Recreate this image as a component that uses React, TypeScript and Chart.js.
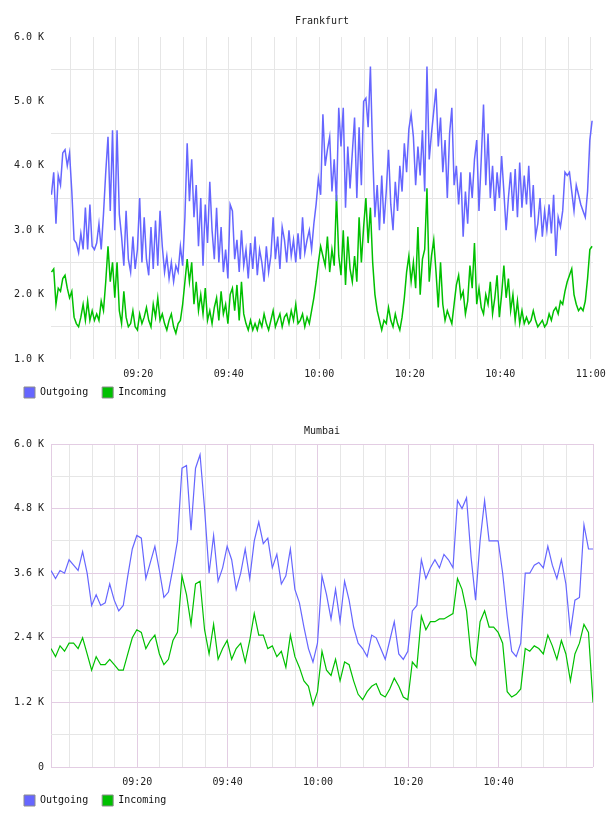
import React, { useEffect, useRef } from 'react';
import { Chart, registerables } from 'chart.js';

Chart.register(...registerables);

const FONT = '"DejaVu Sans Mono", monospace';
const OUT_COLOR = '#6666ff';
const IN_COLOR = '#00c000';
const GRID_GREY = '#e6e6e6';
const GRID_PINK = '#e3cde3';

const seriesNames = ['Outgoing', 'Incoming'];

// Minutes after 09:00 that get a labelled tick
const timeLabelMinutes = [20, 40, 60, 80, 100, 120];

// Frankfurt traffic in K, one sample every 30 s from 09:00:48
const frankfurtStart = 0.8;
const frankfurtStep = 0.5;
const frankfurtOutgoing = [
  3.55, 3.9, 3.1, 3.85, 3.7, 4.2, 4.25, 4.0, 4.2, 3.6,
  2.85, 2.8, 2.65, 2.95, 2.7, 3.35, 2.7, 3.4, 2.75, 2.7,
  2.8, 3.1, 2.7, 3.25, 3.9, 4.45, 3.3, 4.55, 3.0, 4.55,
  3.25, 2.9, 2.45, 3.3, 2.55, 2.35, 2.9, 2.4, 2.7, 3.5,
  2.5, 3.2, 2.55, 2.3, 3.05, 2.4, 3.15, 2.45, 3.3, 2.75,
  2.35, 2.6, 2.25, 2.5, 2.2, 2.45, 2.35, 2.75, 2.45, 3.2,
  4.35, 3.45, 4.1, 3.2, 3.7, 2.75, 3.5, 2.45, 3.4, 2.8,
  3.75, 3.0, 2.55, 3.35, 2.5, 3.05, 2.35, 2.7, 2.25, 3.4,
  3.3, 2.55, 2.85, 2.35, 3.0, 2.45, 2.7, 2.25, 2.8, 2.4,
  2.9, 2.3, 2.7, 2.5, 2.2, 2.75, 2.35, 2.6, 3.2, 2.55,
  2.9, 2.4, 3.05, 2.85, 2.5, 3.0, 2.6, 2.85, 2.5, 2.95,
  2.55, 3.2, 2.65, 2.85, 3.0, 2.7, 3.1, 3.4, 3.8, 3.55,
  4.8, 4.0, 4.25, 4.45, 3.6, 4.1, 3.45, 4.9, 4.3, 4.9,
  3.35, 4.3, 3.65, 4.2, 4.75, 3.5, 4.6, 3.7, 5.0, 5.05,
  4.6, 5.54, 4.2, 3.2, 3.7, 3.0, 3.85, 3.1, 3.6, 4.25,
  3.4, 3.0, 3.75, 3.3, 4.0, 3.6, 4.35, 3.9, 4.57, 4.8,
  4.45, 3.7, 4.3, 3.85, 4.55, 3.6, 5.54, 4.1, 4.5, 4.85,
  5.2, 4.3, 4.75, 3.9, 4.4, 3.5, 4.5, 4.9, 3.7, 4.0,
  3.4, 3.9, 2.9, 3.6, 3.1, 3.9, 3.5, 4.1, 4.4, 3.3,
  4.1, 4.95, 3.7, 4.5, 3.5, 4.0, 3.3, 3.9, 3.5, 4.15,
  3.6, 3.0, 3.5, 3.9, 3.3, 3.95, 3.2, 4.05, 3.35, 3.85,
  3.4, 4.0, 3.2, 3.7, 2.9, 3.1, 3.5, 2.9, 3.3, 3.0,
  3.4, 2.95, 3.55, 2.6, 3.2, 3.05, 3.3, 3.9, 3.85, 3.9,
  3.6, 3.3, 3.7, 3.55, 3.4, 3.3, 3.2, 3.6, 4.4, 4.7,
];
const frankfurtIncoming = [
  2.35, 2.4, 1.85, 2.1, 2.05, 2.25, 2.3, 2.1, 1.95, 2.05,
  1.65, 1.55, 1.5, 1.65, 1.85, 1.6, 1.9, 1.6, 1.75, 1.6,
  1.7, 1.6, 1.9, 1.75, 2.2, 2.75, 2.2, 2.5, 1.95, 2.5,
  1.75, 1.55, 2.05, 1.65, 1.5, 1.55, 1.75, 1.5, 1.45, 1.7,
  1.55, 1.65, 1.8, 1.6, 1.5, 1.85, 1.65, 1.95, 1.6, 1.7,
  1.55, 1.45, 1.6, 1.7, 1.5, 1.4, 1.55, 1.6, 1.85, 2.2,
  2.55, 2.2, 2.5, 1.85, 2.2, 1.75, 2.0, 1.7, 2.1, 1.6,
  1.75, 1.55, 1.8, 1.95, 1.6, 2.05, 1.7, 1.85, 1.55, 2.0,
  2.1, 1.75, 2.15, 1.6, 2.2, 1.7, 1.55, 1.45, 1.6, 1.45,
  1.55, 1.45, 1.6, 1.5, 1.7, 1.55, 1.45, 1.6, 1.75, 1.5,
  1.6, 1.7, 1.5, 1.65, 1.7, 1.55, 1.75, 1.6, 1.85, 1.55,
  1.6, 1.7, 1.5, 1.65, 1.55, 1.75, 1.95, 2.2, 2.5, 2.75,
  2.6, 2.45, 2.9, 2.35, 2.7, 2.45, 3.55, 2.6, 2.3, 3.0,
  2.15, 2.9, 2.4, 2.2, 2.6, 2.2, 3.2, 2.5, 3.05, 3.5,
  2.8, 3.35, 2.5, 2.0, 1.75, 1.6, 1.45, 1.6, 1.55, 1.8,
  1.6, 1.5, 1.7, 1.55, 1.45, 1.65, 1.95, 2.35, 2.6, 2.2,
  2.5, 2.1, 3.05, 2.0, 2.55, 2.7, 3.65, 2.2, 2.6, 2.85,
  2.35, 1.8, 2.5, 1.85, 1.6, 1.75, 1.65, 1.55, 1.85, 2.15,
  2.3, 1.95, 2.05, 1.7, 1.9, 2.45, 2.1, 2.8, 1.85, 2.1,
  1.8, 1.7, 2.0, 1.85, 2.2, 1.7, 1.95, 2.3, 1.65, 2.0,
  2.45, 1.95, 2.25, 1.75, 2.0, 1.6, 1.9, 1.55, 1.75, 1.55,
  1.65, 1.55, 1.6, 1.75, 1.6, 1.5, 1.55, 1.6, 1.5, 1.55,
  1.7, 1.6, 1.75, 1.8, 1.7, 1.9, 1.85, 2.05, 2.2, 2.3,
  2.4, 2.0, 1.85, 1.75, 1.8, 1.75, 1.9, 2.25, 2.7, 2.75,
];

// Mumbai traffic in K, one sample per minute from 09:00:54
const mumbaiStart = 0.9;
const mumbaiStep = 1;
const mumbaiOutgoing = [
  3.65, 3.5, 3.65, 3.6, 3.85, 3.75, 3.65, 4.0, 3.6, 3.0,
  3.2, 3.0, 3.05, 3.4, 3.1, 2.9, 3.0, 3.55, 4.05, 4.3,
  4.25, 3.5, 3.8, 4.1, 3.65, 3.15, 3.25, 3.7, 4.2, 5.55,
  5.6, 4.4, 5.55, 5.8, 4.8, 3.6, 4.3, 3.45, 3.7, 4.1,
  3.85, 3.3, 3.6, 4.05, 3.5, 4.2, 4.55, 4.15, 4.25, 3.7,
  3.95, 3.4, 3.55, 4.05, 3.3, 3.05, 2.6, 2.2, 1.95, 2.3,
  3.55, 3.2, 2.75, 3.3, 2.7, 3.45, 3.1, 2.6, 2.3, 2.2,
  2.05, 2.45, 2.4, 2.2, 2.0, 2.35, 2.7, 2.1, 2.0, 2.15,
  2.9, 3.0, 3.85, 3.5, 3.7, 3.85, 3.7, 3.95, 3.85, 3.7,
  4.95, 4.8, 5.0, 3.9, 3.1, 4.2, 4.95, 4.2, 4.2, 4.2,
  3.6, 2.8, 2.15, 2.05, 2.3, 3.6, 3.6, 3.75, 3.8, 3.7,
  4.1, 3.75, 3.5, 3.85, 3.4, 2.5, 3.1, 3.15, 4.5, 4.05,
  4.05,
];
const mumbaiIncoming = [
  2.2, 2.05, 2.25, 2.15, 2.3, 2.3, 2.2, 2.4, 2.1, 1.8,
  2.05, 1.9, 1.9, 2.0, 1.9, 1.8, 1.8, 2.1, 2.4, 2.55,
  2.5, 2.2, 2.35, 2.45, 2.1, 1.9, 2.0, 2.35, 2.5, 3.55,
  3.2, 2.65, 3.4, 3.45, 2.55, 2.1, 2.65, 2.0, 2.2, 2.35,
  2.0, 2.2, 2.3, 1.95, 2.35, 2.85, 2.45, 2.45, 2.2, 2.25,
  2.05, 2.15, 1.85, 2.45, 2.05, 1.85, 1.6, 1.5, 1.15, 1.4,
  2.15, 1.8, 1.7, 2.0, 1.6, 1.95, 1.9, 1.6, 1.35, 1.25,
  1.4, 1.5, 1.55, 1.35, 1.3, 1.45, 1.65, 1.5, 1.3, 1.25,
  1.95, 1.85, 2.8, 2.55, 2.7, 2.7, 2.75, 2.75, 2.8, 2.85,
  3.5, 3.3, 2.9, 2.05, 1.9, 2.7, 2.9, 2.6, 2.6, 2.5,
  2.3, 1.4, 1.3, 1.35, 1.45, 2.2, 2.15, 2.25, 2.2, 2.1,
  2.45, 2.25, 2.0, 2.35, 2.1, 1.6, 2.1, 2.3, 2.65, 2.5,
  1.2,
];

const pad2 = (n: number) => String(n).padStart(2, '0');
const clock = (min: number) => `${pad2(9 + Math.floor(min / 60))}:${pad2(min % 60)}`;
const kLabel = (v: number) => (v === 0 ? '0' : `${(v / 1000).toFixed(1)} K`);

const toPoints = (values: number[], start: number, step: number) =>
  values.map((v, i) => ({ x: start + i * step, y: v * 1000 }));

const range = (from: number, to: number, step: number) => {
  const out: number[] = [];
  for (let v = from; v <= to + 1e-9; v += step) out.push(Math.round(v * 1000) / 1000);
  return out;
};

// Pulls the legend row up closer to the time axis labels
const legendLift = {
  id: 'legendLift',
  afterLayout(chart: any) {
    const lg = chart.legend;
    if (lg) {
      lg.top -= 8;
      lg.bottom -= 8;
    }
  },
};

type PanelSpec = {
  title: string;
  canvasHeight: number;
  titlePad: { top: number; bottom: number };
  outgoing: { x: number; y: number }[];
  incoming: { x: number; y: number }[];
  lineWidth: number;
  xMin: number;
  xMax: number;
  xTicks: number[];
  xGrid: (v: number) => string;
  yMin: number;
  yMax: number;
  yTicks: number[];
  yLabelEvery: number;
  yGrid: (v: number) => string;
};

function buildConfig(p: PanelSpec): any {
  const tickFont = { family: FONT, size: 10 };
  return {
    type: 'line',
    data: {
      datasets: [
        {
          label: seriesNames[0],
          data: p.outgoing,
          borderColor: OUT_COLOR,
          backgroundColor: OUT_COLOR,
          borderWidth: p.lineWidth,
          pointRadius: 0,
          tension: 0,
          fill: false,
        },
        {
          label: seriesNames[1],
          data: p.incoming,
          borderColor: IN_COLOR,
          backgroundColor: IN_COLOR,
          borderWidth: p.lineWidth,
          pointRadius: 0,
          tension: 0,
          fill: false,
        },
      ],
    },
    plugins: [legendLift],
    options: {
      responsive: false,
      animation: false,
      events: [],
      layout: { padding: { left: 10, right: 47, top: 0, bottom: 0 } },
      scales: {
        x: {
          type: 'linear',
          min: p.xMin,
          max: p.xMax,
          afterBuildTicks: (scale: any) => {
            scale.ticks = p.xTicks.map((value) => ({ value }));
          },
          afterFit: (scale: any) => {
            scale.height = 22;
          },
          ticks: {
            autoSkip: false,
            maxRotation: 0,
            padding: 9,
            color: '#222',
            font: tickFont,
            callback: (v: number) => (timeLabelMinutes.includes(v) ? clock(v) : ''),
          },
          grid: {
            drawTicks: false,
            color: (ctx: any) => p.xGrid(ctx.tick ? ctx.tick.value : 0),
          },
          border: { display: false },
        },
        y: {
          type: 'linear',
          min: p.yMin,
          max: p.yMax,
          afterBuildTicks: (scale: any) => {
            scale.ticks = p.yTicks.map((value) => ({ value }));
          },
          afterFit: (scale: any) => {
            scale.width = 41;
          },
          ticks: {
            autoSkip: false,
            padding: 7,
            color: '#222',
            font: tickFont,
            callback: (v: number) => (v % p.yLabelEvery === 0 ? kLabel(v) : ''),
          },
          grid: {
            drawTicks: false,
            color: (ctx: any) => p.yGrid(ctx.tick ? ctx.tick.value : 0),
          },
          border: { display: false },
        },
      },
      plugins: {
        title: {
          display: true,
          text: p.title,
          fullSize: false,
          color: '#222',
          font: { family: FONT, size: 10, weight: 'normal' },
          padding: p.titlePad,
        },
        legend: {
          display: true,
          position: 'bottom',
          align: 'start',
          labels: {
            boxWidth: 11,
            boxHeight: 11,
            padding: 14,
            color: '#111',
            font: { family: FONT, size: 10 },
            generateLabels: (chart: any) =>
              Chart.defaults.plugins.legend.labels.generateLabels(chart).map((item: any) => ({
                ...item,
                strokeStyle: '#8c8c8c',
                lineWidth: 1,
              })),
          },
        },
        tooltip: { enabled: false },
      },
    },
  };
}

function Panel({ spec }: { spec: PanelSpec }) {
  const ref = useRef<HTMLCanvasElement | null>(null);
  useEffect(() => {
    if (!ref.current) return;
    const chart = new Chart(ref.current, buildConfig(spec));
    return () => chart.destroy();
  }, [spec]);
  return (
    <canvas
      ref={ref}
      width={640}
      height={spec.canvasHeight}
      style={{ display: 'block', width: 640, height: spec.canvasHeight }}
    />
  );
}

const frankfurtSpec: PanelSpec = {
  title: 'Frankfurt',
  canvasHeight: 416,
  titlePad: { top: 15, bottom: 10 },
  outgoing: toPoints(frankfurtOutgoing, frankfurtStart, frankfurtStep),
  incoming: toPoints(frankfurtIncoming, frankfurtStart, frankfurtStep),
  lineWidth: 1.5,
  xMin: 0.7,
  xMax: 120.5,
  xTicks: range(5, 120, 5),
  xGrid: () => GRID_GREY,
  yMin: 1000,
  yMax: 6000,
  yTicks: range(1000, 6000, 500),
  yLabelEvery: 1000,
  yGrid: (v) => (v % 1000 === 0 ? 'rgba(0,0,0,0)' : GRID_GREY),
};

const mumbaiSpec: PanelSpec = {
  title: 'Mumbai',
  canvasHeight: 408,
  titlePad: { top: 9, bottom: 7 },
  outgoing: toPoints(mumbaiOutgoing, mumbaiStart, mumbaiStep),
  incoming: toPoints(mumbaiIncoming, mumbaiStart, mumbaiStep),
  lineWidth: 1.2,
  xMin: 0.9,
  xMax: 120.9,
  xTicks: [0.9, ...range(5, 115, 5), 120.9],
  xGrid: (v) => (v === 0.9 || v === 120.9 || v % 20 === 0 ? GRID_PINK : GRID_GREY),
  yMin: 0,
  yMax: 6000,
  yTicks: range(0, 6000, 600),
  yLabelEvery: 1200,
  yGrid: (v) => (v % 1200 === 0 ? GRID_PINK : GRID_GREY),
};

export default function App() {
  return (
    <div
      style={{
        position: 'absolute',
        left: 0,
        top: 0,
        width: 608,
        height: 816,
        overflow: 'hidden',
        background: '#fff',
      }}
    >
      <Panel spec={frankfurtSpec} />
      <Panel spec={mumbaiSpec} />
    </div>
  );
}
